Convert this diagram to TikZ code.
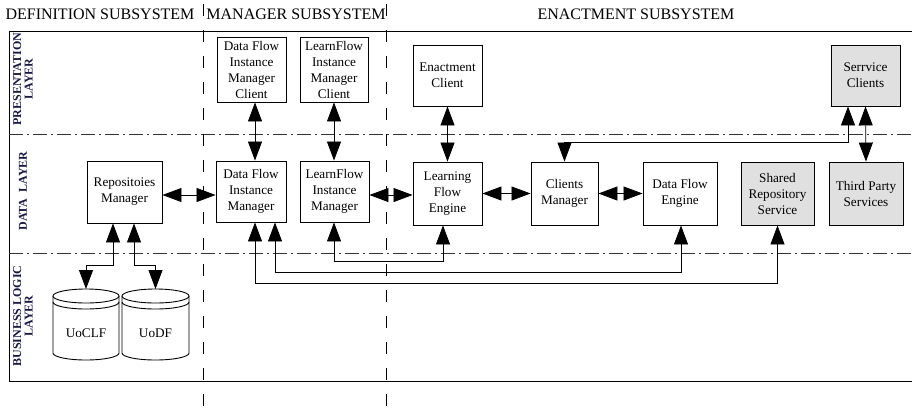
\documentclass[tikz,border=0pt]{standalone}
\usepackage{fontspec}
\setmainfont{Liberation Serif}
\usetikzlibrary{arrows.meta}

\definecolor{layerink}{RGB}{25,25,70}
\definecolor{extgray}{RGB}{224,224,224}

\begin{document}
\begin{tikzpicture}[x=1pt,y=-1pt,
  >={Triangle[length=19pt,width=14pt]},
  box/.style={draw,line width=0.9pt,align=center,inner sep=1pt,font=\fontsize{13.2}{16}\selectfont},
  ext/.style={box,fill=extgray},
  link/.style={line width=0.8pt,<->},
  layer/.style={rotate=90,align=center,text=layerink,font=\bfseries\fontsize{12}{11.5}\selectfont},
  tier/.style={line width=0.8pt,black!80,dash pattern=on 14pt off 4pt on 2pt off 4pt},
  split/.style={line width=0.8pt,dash pattern=on 12pt off 14pt},
  head/.style={font=\fontsize{16}{18}\selectfont}]
 \useasboundingbox (0,0) rectangle (912,408);

 % subsystems
 \node[head] (defsys) at (100,14) {DEFINITION SUBSYSTEM};
 \node[head] (mansys) at (296,14) {MANAGER SUBSYSTEM};
 \node[head] (enasys) at (636,14) {ENACTMENT SUBSYSTEM};

 % frame and layers
 \draw[line width=0.9pt] (912,31) -- (9,31) -- (9,381) -- (912,381);
 \draw[tier] (9,134) -- (912,134);
 \draw[tier] (9,253) -- (912,253);
 \draw[split] (203,4) -- (203,408);
 \draw[split] (386,4) -- (386,408);

 \node[layer] (pres) at (23,79) {PRESENTATION\\LAYER};
 \node[layer] (data) at (23,191) {DATA~~LAYER};
 \node[layer] (busi) at (23,316) {BUSINESS LOGIC\\LAYER};

 % presentation layer
 \node[box,minimum width=69pt,minimum height=65pt] (dfimc) at (251.5,69.5) {Data Flow\\Instance\\Manager\\Client};
 \node[box,minimum width=68pt,minimum height=65pt] (lfimc) at (334,69.5) {LearnFlow\\Instance\\Manager\\Client};
 \node[box,minimum width=69pt,minimum height=61pt] (ec) at (447.5,75.5) {Enactment\\Client};
 \node[ext,minimum width=69pt,minimum height=61pt] (sc) at (865.5,75.5) {Serrvice\\Clients};

 % data layer
 \node[box,minimum width=75pt,minimum height=62pt] (rm) at (124.5,192) {Repositoies\\Manager};
 \node[box,minimum width=70pt,minimum height=61pt] (dfim) at (251,191.5) {Data Flow\\Instance\\Manager};
 \node[box,minimum width=69pt,minimum height=61pt] (lfim) at (334.5,191.5) {LearnFlow\\Instance\\Manager};
 \node[box,minimum width=69pt,minimum height=63pt] (lfe) at (447.5,193.5) {Learning\\Flow\\Engine};
 \node[box,minimum width=67pt,minimum height=63pt] (cm) at (564.5,193.5) {Clients\\Manager};
 \node[box,minimum width=74pt,minimum height=63pt] (dfe) at (680,193.5) {Data Flow\\Engine};
 \node[ext,minimum width=73pt,minimum height=63pt] (srs) at (777.5,193.5) {Shared\\Repository\\Service};
 \node[ext,minimum width=74pt,minimum height=63pt] (tps) at (866,193.5) {Third Party\\Services};

 % business logic layer
 \draw[line width=0.9pt,fill=white] (53,296) -- (53,353) arc[start angle=180,end angle=0,x radius=33,y radius=7] -- (119,296);
 \draw[line width=0.9pt,fill=white] (86,296) ellipse[x radius=33,y radius=7];
 \draw[line width=0.9pt] (53,302) arc[start angle=180,end angle=0,x radius=33,y radius=7];
 \draw[line width=0.9pt,fill=white] (122,296) -- (122,353) arc[start angle=180,end angle=0,x radius=33.5,y radius=7] -- (189,296);
 \draw[line width=0.9pt,fill=white] (155.5,296) ellipse[x radius=33.5,y radius=7];
 \draw[line width=0.9pt] (122,302) arc[start angle=180,end angle=0,x radius=33.5,y radius=7];
 \node[font=\fontsize{13.2}{16}\selectfont] (uoclf) at (86,333) {UoCLF};
 \node[font=\fontsize{13.2}{16}\selectfont] (uodf) at (155.5,333) {UoDF};
 \coordinate (uocltop) at (86,289);
 \coordinate (uodtop) at (155.5,289);

 % links
 \draw[link] ([xshift=3.5pt]dfimc.south) -- ([xshift=4pt]dfim.north);
 \draw[link] (lfimc.south) -- ([xshift=-0.5pt]lfim.north);
 \draw[link] (ec.south) -- (lfe.north);
 \draw[link] (sc.south) -- (tps.north);
 \draw[link] ([xshift=-17.5pt]sc.south) -- ++(0,36) -| (cm.north);

 \draw[link] ([yshift=-3pt]rm.east) -- ([yshift=-3.5pt]dfim.west);
 \draw[link] ([yshift=-3.5pt]lfim.east) -- ([yshift=-1.5pt]lfe.west);
 \draw[link] (lfe.east) -- (cm.west);
 \draw[link] (cm.east) -- (dfe.west);

 \draw[link] ([xshift=-11.5pt]rm.south) -- ++(0,42) -| (uocltop);
 \draw[link] ([xshift=9.5pt]rm.south) -- ++(0,42) -| (uodtop);
 \draw[link] ([xshift=4pt]dfim.south) -- ++(0,61) -| (srs.south);
 \draw[link] ([xshift=24pt]dfim.south) -- ++(0,50) -| ([xshift=1pt]dfe.south);
 \draw[link] ([xshift=-0.5pt]lfim.south) -- ++(0,39) -| ([xshift=-4.5pt]lfe.south);

\end{tikzpicture}
\end{document}
